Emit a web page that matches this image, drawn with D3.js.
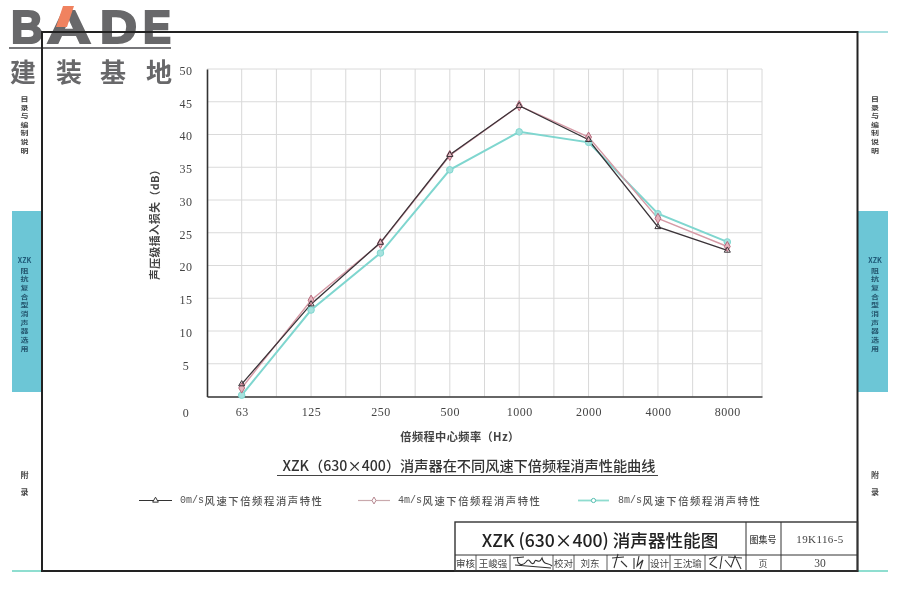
<!DOCTYPE html>
<html><head><meta charset="utf-8">
<script src="https://cdn.jsdelivr.net/npm/d3@7"></script>
<style>
html,body{margin:0;padding:0;background:#fff}
svg{display:block;filter:blur(0.45px)}
text{font-family:"Noto Sans CJK SC","Noto Sans",sans-serif;fill:#333}
</style></head><body>
<div id="chart"></div>
<script>
const categories=["63","125","250","500","1000","2000","4000","8000"];
const speed0=[1.9,14.1,23.5,36.9,44.4,39.2,25.9,22.3];
const speed4=[1.3,14.7,23.4,36.8,44.4,39.6,27.2,22.9];
const speed8=[0.2,13.2,21.9,34.6,40.4,38.8,27.9,23.6];
const seriesNames=["0m/s风速下倍频程消声特性","4m/s风速下倍频程消声特性","8m/s风速下倍频程消声特性"];
const seriesColors=["#3a3338","#d69aa6","#7fd6cf"];
const yTicks=[0,5,10,15,20,25,30,35,40,45,50];
const chartTitle="XZK（630×400）消声器在不同风速下倍频程消声性能曲线";
const yTitle="声压级插入损失（dB）";
const xTitle="倍频程中心频率（Hz）";

const W=900,H=600,L=207,R=762,T=69,B=396.5;
const svg=d3.select("#chart").append("svg").attr("width",W).attr("height",H).attr("viewBox",`0 0 ${W} ${H}`);
const txt=(s,x,y,size,o={})=>svg.append("text").text(s).attr("x",x).attr("y",y)
  .attr("font-size",size).attr("text-anchor",o.anchor||"middle").attr("dominant-baseline",o.base||"central")
  .attr("font-weight",o.weight||400).style("font-family",o.family||null).style("fill",o.fill||null)
  .attr("letter-spacing",o.ls||null);
const rule=(x1,y1,x2,y2,c,w)=>svg.append("line").attr("x1",x1).attr("y1",y1).attr("x2",x2).attr("y2",y2).attr("stroke",c).attr("stroke-width",w);

// side tabs
const teal="#6cc6d6";
svg.append("rect").attr("x",12).attr("y",211).attr("width",30).attr("height",181).attr("fill",teal);
svg.append("rect").attr("x",858).attr("y",211).attr("width",30).attr("height",181).attr("fill",teal);
rule(858,32,888,32,"#a8dfe0",2);rule(858,571,888,571,"#8fded0",2);rule(12,571,42,571,"#8fded0",2);
const vert=(s,x,y0,step,size,c)=>Array.from(s).forEach((ch,i)=>
  txt(ch,x,y0+i*step,size,{weight:700,fill:c}).attr("textLength",8).attr("lengthAdjust","spacingAndGlyphs"));
[24.5,875].forEach(x=>{
  vert("目录与编制说明",x,98.5,8.6,5.9,"#444");
  txt("XZK",x,260,7,{weight:700,fill:"#1f5a78"});
  vert("阻抗复合型消声器选用",x,270,8.7,5.9,"#24566e");
  vert("附",x,474,8,7.5,"#444");vert("录",x,491,8,7.5,"#444");
});

// logo
const logoLetters=[["B",11,32],["A",47,44],["D",100,37],["E",143,28]];
logoLetters.forEach(([c,lx,lw])=>{
  txt(c,lx,42.5,47,{anchor:"start",base:"alphabetic",family:"Liberation Sans",weight:700,fill:"#68686a"})
    .attr("textLength",lw).attr("lengthAdjust","spacingAndGlyphs")
    .attr("stroke","#68686a").attr("stroke-width",2.2);
});
svg.append("polygon").attr("points","63,6 74,6 67,27 56,27").attr("fill","#f0825f");
rule(9,48,171,48,"#77777a",2);
[["建",23],["装",69],["基",113],["地",159]].forEach(([c,x])=>txt(c,x,70,26,{weight:700,fill:"#68686a"}));

// grid and axes
const x=d3.scalePoint().domain(categories).range([L,R]).padding(0.5);
const y=d3.scaleLinear().domain([0,50]).range([B,T]);
const step=x.step();
const g=svg.append("g");
d3.range(1,17).forEach(i=>{const xv=L+i*step/2;
  g.append("line").attr("x1",xv).attr("x2",xv).attr("y1",T).attr("y2",B).attr("stroke","#d8d8d8").attr("stroke-width",1);});
yTicks.slice(1).forEach(t=>g.append("line").attr("x1",L).attr("x2",R).attr("y1",y(t)).attr("y2",y(t)).attr("stroke","#dadada").attr("stroke-width",1));

const yAxis=svg.append("g").attr("transform",`translate(${L},0)`).call(d3.axisLeft(y).tickValues(yTicks).tickSize(0).tickPadding(0));
yAxis.select(".domain").attr("stroke","#333").attr("stroke-width",1.6);
yAxis.selectAll("text").style("font-family","Liberation Serif").style("fill","#444").attr("font-size",12)
  .attr("text-anchor","middle").attr("x",-21).attr("dy",d=>d===0?"1.7em":"0.45em").attr("letter-spacing",0.5);
const xAxis=svg.append("g").attr("transform",`translate(0,${B})`).call(d3.axisBottom(x).tickSize(0).tickPadding(0));
xAxis.select(".domain").attr("stroke","#333").attr("stroke-width",1.6);
xAxis.selectAll("text").style("font-family","Liberation Serif").style("fill","#444").attr("font-size",12)
  .attr("y",11).attr("letter-spacing",0.5);

// series
const line=d3.line().x((d,i)=>x(categories[i])).y(d=>y(d));
const sym=[d3.symbolTriangle,d3.symbolDiamond,d3.symbolCircle];
const symSize=[16,30,34];
const widths=[1.3,1.4,2];
const all=[speed0,speed4,speed8];
[2,1,0].forEach(k=>{
  svg.append("path").datum(all[k]).attr("d",line).attr("fill","none").attr("stroke",seriesColors[k]).attr("stroke-width",widths[k]);
});
[2,1,0].forEach(k=>{
  svg.append("g").selectAll("path").data(all[k]).join("path")
    .attr("d",d3.symbol(sym[k],symSize[k]))
    .attr("transform",(d,i)=>`translate(${x(categories[i])},${y(d)})`)
    .attr("fill",k===1?"#e6b4bd":k===2?"#a6e2de":"none").attr("stroke",k===1?"#b5697c":seriesColors[k]).attr("stroke-width",1);
});

// axis titles
txt(xTitle,460,436,11.2,{weight:700,fill:"#444",ls:0.4});
txt(yTitle,0,0,10.8,{weight:700,fill:"#444",ls:0.4}).attr("transform","translate(154,222) rotate(-90)");
txt(chartTitle,469,465,14.2,{weight:500,fill:"#333"});
rule(277,475.5,658,475.5,"#444",1.2);

// legend
const legendX=[[139,172,180],[358,390,398],[578,609,618]];
seriesNames.forEach((n,k)=>{
  const [a,b,t]=legendX[k];
  rule(a,500.5,b,500.5,k===0?"#333":k===1?"#c9a9ad":"#8fdccf",k===2?1.8:1.2);
  svg.append("path").attr("d",d3.symbol(sym[k],14)).attr("transform",`translate(${(a+b)/2},500.5)`)
    .attr("fill","#fff").attr("stroke",k===0?"#333":k===1?"#b5868f":"#55bdb0");
  const parts=n.match(/^(\S+?\/s)(.*)$/);
  txt(parts[1],t,500.5,10,{anchor:"start",family:"Liberation Mono",fill:"#555"});
  txt(parts[2],t+24.5,500.5,10.3,{anchor:"start",fill:"#555",weight:500,ls:1.6});
});

// frame
svg.append("rect").attr("x",42).attr("y",32).attr("width",815.5).attr("height",539).attr("fill","none").attr("stroke","#222").attr("stroke-width",2);

// title block
const tb="#333";
svg.append("rect").attr("x",455).attr("y",522).attr("width",402.5).attr("height",49).attr("fill","none").attr("stroke",tb).attr("stroke-width",1.4);
rule(455,555,857,555,tb,1);
[746,781].forEach(v=>rule(v,522,v,571,tb,1));
[476,510,553,574,607,649,670,705].forEach(v=>rule(v,555,v,571,tb,0.8));
txt("XZK (630×400) 消声器性能图",600,539,17.6,{weight:500,fill:"#222"});
txt("图集号",763,539,9,{weight:500,fill:"#444"});
txt("19K116-5",820,539,11,{family:"Liberation Serif",fill:"#444",ls:0.4});
txt("页",763,563,9,{fill:"#444"});
txt("30",820,563,11.5,{family:"Liberation Serif",fill:"#444"});
[["审核",465.5],["校对",563.5],["设计",659.5]].forEach(([s,v])=>txt(s,v,563,9.5,{fill:"#444"}));
[["王峻强",493],["刘东",590],["王沈瑜",687.5]].forEach(([s,v])=>txt(s,v,563,9.5,{fill:"#444"}));
// handwritten signatures
["M513,558 L524,557 M518,557 C516,564 522,567 526,562 C530,556 530,566 534,563 C536,556 538,566 542,558 C544,566 548,562 552,566 M515,565 L551,568",
 "M612,558 L624,557 M618,554 L614,568 M621,561 L627,567 M634,558 L634,569 M639,556 L637,566 L643,560 L640,569",
 "M709,559 L716,557 L710,564 L717,568 M722,556 L720,569 M725,560 L731,567 L735,556 L741,569 M728,557 L742,558"
].forEach(d=>svg.append("path").attr("d",d).attr("fill","none").attr("stroke","#333").attr("stroke-width",1.1));
</script></body></html>
